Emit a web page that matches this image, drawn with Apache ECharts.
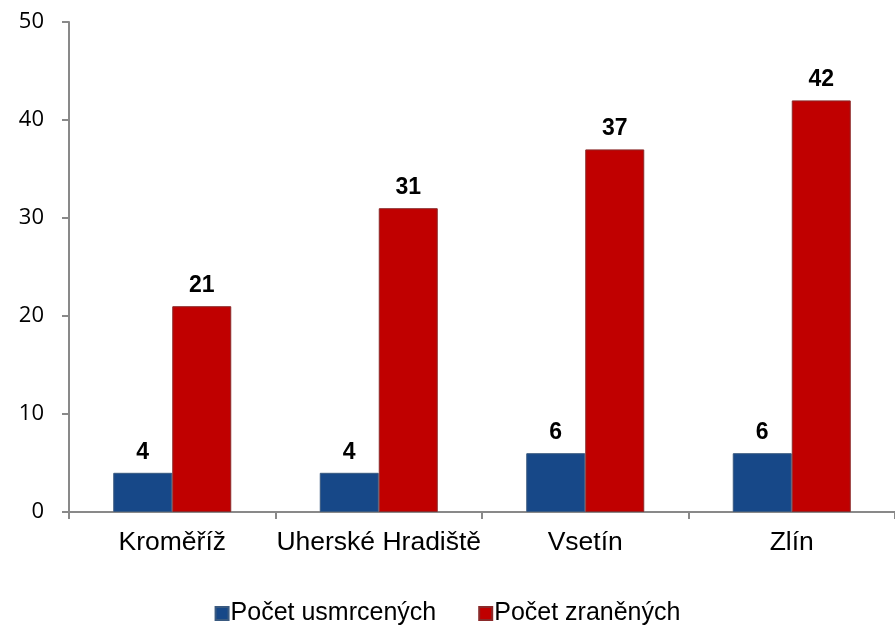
<!DOCTYPE html>
<html><head><meta charset="utf-8">
<script src="https://cdn.jsdelivr.net/npm/echarts@6/dist/echarts.min.js"></script>
<style>html,body{margin:0;padding:0;background:#fff}#c{width:895px;height:626px}</style>
</head><body><div id="c"></div>
<script>
const categories = ['Kroměříž', 'Uherské Hradiště', 'Vsetín', 'Zlín'];
const seriesNames = ['Počet usmrcených', 'Počet zraněných'];
const killed = [4, 4, 6, 6];
const injured = [21, 31, 37, 42];
const yTicks = [0, 10, 20, 30, 40, 50];

const chart = echarts.init(document.getElementById('c'));
const labelStyle = {show: true, position: 'top', distance: 9, fontFamily: 'Liberation Sans, Arial', fontWeight: 'bold', fontSize: 23, color: '#000'};
chart.setOption({
  animation: false,
  grid: {left: 69, right: -2, top: 22, bottom: 114},
  legend: {
    top: 596, left: 'center', itemWidth: 13, itemHeight: 13, itemGap: 42, icon: 'rect',
    textStyle: {fontFamily: 'Liberation Sans, Arial', fontSize: 25, color: '#000', padding: [0,0,0,-3]},
    data: seriesNames
  },
  xAxis: {
    type: 'category', data: categories,
    axisLine: {lineStyle: {color: '#898989', width: 2}},
    axisTick: {show: true, interval: 0, length: 7, lineStyle: {color: '#898989', width: 2}},
    axisLabel: {interval: 0, hideOverlap: false, fontFamily: 'Liberation Sans, Arial', fontSize: 26.5, color: '#000', margin: 17}
  },
  yAxis: {
    type: 'value', min: yTicks[0], max: yTicks[yTicks.length-1], interval: 10,
    splitLine: {show: false},
    axisLine: {show: true, lineStyle: {color: '#898989', width: 2}},
    axisTick: {show: true, length: 7, lineStyle: {color: '#898989', width: 2}},
    axisLabel: {fontFamily: 'Open Sans', fontSize: 22, color: '#000', margin: 25}
  },
  series: [
    {name: seriesNames[0], type: 'bar', data: killed, barWidth: 59, barGap: '0%',
     itemStyle: {color: '#174888', borderColor: '#3a5a80', borderWidth: 1}, label: labelStyle},
    {name: seriesNames[1], type: 'bar', data: injured, barWidth: 59, barGap: '0%',
     itemStyle: {color: '#C00000', borderColor: '#8a2a2a', borderWidth: 1}, label: labelStyle}
  ]
});
</script></body></html>
